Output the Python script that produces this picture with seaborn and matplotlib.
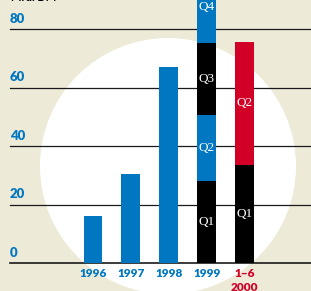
import matplotlib.pyplot as plt
import pandas as pd
import seaborn as sns
from matplotlib.patches import Circle

# values
categories = ['1996', '1997', '1998', '1999', '1–6\n2000']
annual = [16.3, 30.5, 67.0]            # 1996-1998, single bars
q1999 = [28.0, 22.7, 24.7, 24.6]       # Q1..Q4 of 1999
h2000 = [33.6, 42.1]                   # Q1..Q2 of 2000
yticks = [0, 20, 40, 60, 80]

BLUE = '#0077c0'
RED = '#d20027'
BLACK = '#000000'
BEIGE = '#eeead8'

# segments per category: (label, height, colour)
segments = {
    '1996': [('', annual[0], BLUE)],
    '1997': [('', annual[1], BLUE)],
    '1998': [('', annual[2], BLUE)],
    '1999': [('Q1', q1999[0], BLACK), ('Q2', q1999[1], BLUE),
             ('Q3', q1999[2], BLACK), ('Q4', q1999[3], BLUE)],
    '1–6\n2000': [('Q1', h2000[0], BLACK), ('Q2', h2000[1], RED)],
}

rows = []
for cat, segs in segments.items():
    bottom = 0
    for layer, (lab, h, col) in enumerate(segs):
        rows.append(dict(cat=cat, layer=layer, label=lab, bottom=bottom,
                         top=bottom + h, color=col))
        bottom += h
df = pd.DataFrame(rows)

fig = plt.figure(figsize=(3.11, 2.91), dpi=100)
fig.patch.set_facecolor(BEIGE)
ax = fig.add_axes([0, 0, 1, 1])
ax.set_facecolor(BEIGE)

# white disc in the background
ax.add_patch(Circle((1.68, 1.25), 1.28, transform=fig.dpi_scale_trans,
                    facecolor='white', edgecolor='none', zorder=0))

# gridlines
for v in yticks:
    ax.axhline(v, xmin=0.032, xmax=1, color='#1a1a1a',
               lw=1.2 if v == 0 else 0.9, zorder=1)
    ax.text(0.032, v + 1.6, str(v), transform=ax.get_yaxis_transform(),
            color=BLUE, fontsize=9.5, fontweight='heavy', family='Lato',
            ha='left', va='bottom')

# stacked bars by overlaying cumulative tops, highest layer first
for layer in sorted(df['layer'].unique(), reverse=True):
    sub = df[df['layer'] == layer]
    pal = dict(zip(sub['cat'], sub['color']))
    sns.barplot(data=sub, x='cat', y='top', hue='cat', palette=pal,
                order=categories, hue_order=list(sub['cat']), width=0.5,
                dodge=False, legend=False, saturation=1, ax=ax, zorder=2)

# segment labels
pos = {c: i for i, c in enumerate(categories)}
for _, r in df[df['label'] != ''].iterrows():
    ax.text(pos[r['cat']], (r['bottom'] + r['top']) / 2, r['label'],
            color='white', fontsize=9.5, family='Liberation Serif',
            ha='center', va='center', zorder=3)

# category labels
for c in categories:
    ax.text(pos[c], -1.7, c, color=RED if '2000' in c else BLUE,
            fontsize=8.5, fontweight='heavy', family='Lato',
            ha='center', va='top', linespacing=1.3)

# unit label, cut off at top like the reference
ax.text(0.035, 89.6, 'Mrd. DM', transform=ax.get_yaxis_transform(),
        color=BLACK, fontsize=8, fontweight='bold', family='Lato',
        ha='left', va='baseline')

ax.set_xlim(-2.454, 5.752)
ax.set_ylim(-9.47, 90.0)
ax.axis('off')

fig.savefig('out.png', dpi=100, facecolor=BEIGE)
